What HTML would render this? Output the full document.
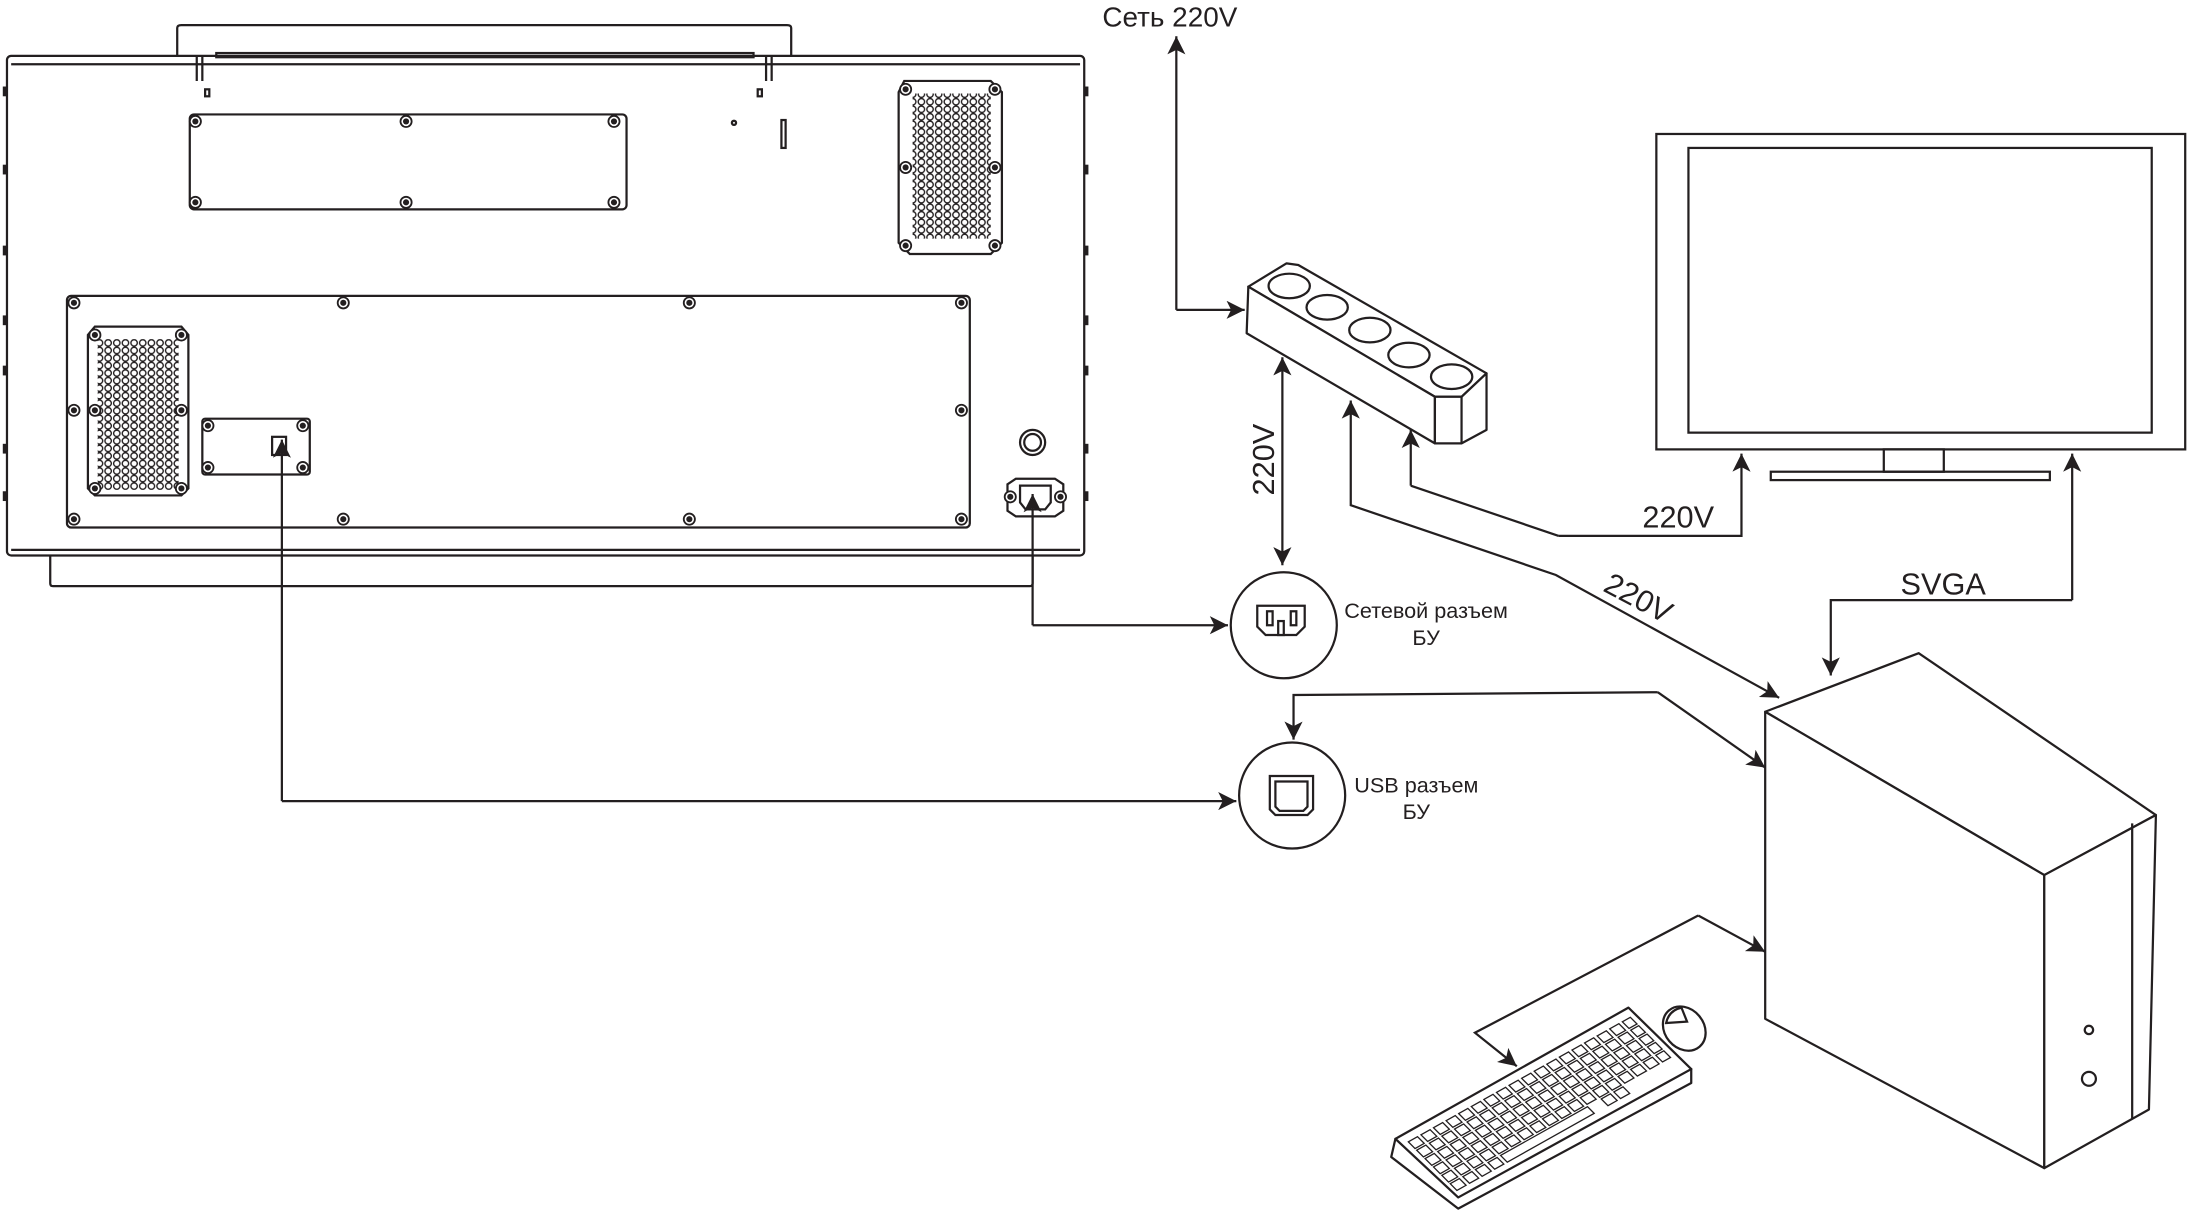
<!DOCTYPE html>
<html><head><meta charset="utf-8"><style>
html,body{margin:0;padding:0;background:#fff;}
svg{display:block;}
text{font-family:"Liberation Sans",sans-serif;fill:#231f20;}
</style></head><body>
<svg width="2188" height="1210" viewBox="0 0 1568 867" preserveAspectRatio="none" xmlns="http://www.w3.org/2000/svg">
<defs>
<marker id="a" viewBox="0 0 10 10" refX="10" refY="5" markerWidth="16" markerHeight="13" markerUnits="userSpaceOnUse" orient="auto-start-reverse"><path d="M0,0 L10,5 L0,10 L2.5,5 z" fill="#231f20"/></marker>
<pattern id="holes" width="6.2" height="5.4" patternUnits="userSpaceOnUse"><circle cx="3.1" cy="2.7" r="2.3" fill="none" stroke="#231f20" stroke-width="1"/></pattern>
<g id="sc"><circle r="4" fill="#fff" stroke="#231f20" stroke-width="1.3"/><circle r="2.2" fill="#231f20"/></g>
</defs>
<g fill="none" stroke="#231f20" stroke-width="1.6">
<!-- device -->
<path d="M127,40 V20 Q127,18 130,18 H564 Q567,18 567,20 V40"/>
<rect x="155" y="38" width="385" height="3"/>
<path d="M141,40 V58 M145,40 V58 M549,40 V58 M553,40 V58"/>
<rect x="147" y="64" width="3" height="5"/><rect x="543" y="64" width="3" height="5"/>
<rect x="5" y="40" width="772" height="358" rx="3"/>
<path d="M8,46 H774 M8,394 H774"/>
<path d="M36,398 V418 Q36,420 38,420 H738 Q740,420 740,418 V398"/>
<rect x="136" y="82" width="313" height="68" rx="3"/>
<circle cx="526" cy="88" r="1.5"/><rect x="560" y="86" width="3" height="20"/>
<path d="M648,58 H710 L718,66 V174 L710,182 H652 L644,174 V66 Z"/>
<rect x="654" y="67" width="56" height="104" fill="url(#holes)" stroke="none"/>
<rect x="48" y="212" width="647" height="166" rx="3"/>
<path d="M68,234 H130 L135,240 V350 L130,355 H68 L63,350 V240 Z"/>
<rect x="70" y="243" width="58" height="108" fill="url(#holes)" stroke="none"/>
<rect x="145" y="300" width="77" height="40" rx="2"/>
<rect x="195" y="313" width="10" height="13"/>
<circle cx="740" cy="317" r="9"/><circle cx="740" cy="317" r="6"/>
<path d="M722,347 L728,343 H756 L762,347 V366 L756,370 H728 L722,366 Z"/>
<path d="M731,348 H753 V360 L749,365 H735 L731,360 Z"/>
</g>
<g>
<use href="#sc" x="140" y="87"/><use href="#sc" x="291" y="87"/><use href="#sc" x="440" y="87"/>
<use href="#sc" x="140" y="145"/><use href="#sc" x="291" y="145"/><use href="#sc" x="440" y="145"/>
<use href="#sc" x="53" y="217"/><use href="#sc" x="246" y="217"/><use href="#sc" x="494" y="217"/><use href="#sc" x="689" y="217"/>
<use href="#sc" x="53" y="294"/><use href="#sc" x="689" y="294"/>
<use href="#sc" x="53" y="372"/><use href="#sc" x="246" y="372"/><use href="#sc" x="494" y="372"/><use href="#sc" x="689" y="372"/>
<use href="#sc" x="68" y="240"/><use href="#sc" x="130" y="240"/><use href="#sc" x="68" y="294"/><use href="#sc" x="130" y="294"/><use href="#sc" x="68" y="350"/><use href="#sc" x="130" y="350"/>
<use href="#sc" x="649" y="64"/><use href="#sc" x="713" y="64"/><use href="#sc" x="649" y="120"/><use href="#sc" x="713" y="120"/><use href="#sc" x="649" y="176"/><use href="#sc" x="713" y="176"/>
<use href="#sc" x="149" y="305"/><use href="#sc" x="217" y="305"/><use href="#sc" x="149" y="335"/><use href="#sc" x="217" y="335"/>
<use href="#sc" x="724" y="356"/><use href="#sc" x="760" y="356"/>
</g>
<g fill="#231f20">
<rect x="2" y="62" width="3" height="7"/><rect x="2" y="118" width="3" height="7"/><rect x="2" y="176" width="3" height="7"/><rect x="2" y="226" width="3" height="7"/><rect x="2" y="262" width="3" height="7"/><rect x="2" y="318" width="3" height="7"/><rect x="2" y="352" width="3" height="7"/>
<rect x="777" y="62" width="3" height="7"/><rect x="777" y="118" width="3" height="7"/><rect x="777" y="176" width="3" height="7"/><rect x="777" y="226" width="3" height="7"/><rect x="777" y="262" width="3" height="7"/><rect x="777" y="318" width="3" height="7"/><rect x="777" y="352" width="3" height="7"/>
</g>

<!-- power strip -->
<g fill="#fff" stroke="#231f20" stroke-width="1.6" stroke-linejoin="round">
<path d="M894.6,205.4 L922,188.7 L930.4,189.9 L1065.3,267.5 L1047.4,284.3 L1028.3,284.3 Z"/>
<path d="M894.6,205.4 L1028.3,284.3 L1028.3,317.7 L893.4,238.8 Z"/>
<path d="M1028.3,284.3 L1047.4,284.3 L1065.3,267.5 L1065.3,308 L1047.4,317.7 L1028.3,317.7 Z"/>
<path d="M1047.4,284.3 V317.7"/>
<ellipse cx="923.9" cy="204.9" rx="14.8" ry="8.8"/><ellipse cx="951.1" cy="220.2" rx="14.8" ry="8.8"/><ellipse cx="981.7" cy="236.5" rx="14.8" ry="8.8"/><ellipse cx="1009.7" cy="254.4" rx="14.8" ry="8.8"/><ellipse cx="1040.3" cy="269.9" rx="14.8" ry="8.8"/>
</g>

<!-- monitor -->
<g fill="none" stroke="#231f20" stroke-width="1.6">
<rect x="1187" y="96" width="379" height="226"/>
<rect x="1210" y="106" width="332" height="204"/>
<rect x="1350" y="322" width="43" height="16"/>
<rect x="1269" y="338" width="200" height="6"/>
</g>

<!-- PC -->
<g fill="#fff" stroke="#231f20" stroke-width="1.6" stroke-linejoin="round">
<path d="M1265,510 L1375,468 L1545,584 L1465,627 Z"/>
<path d="M1265,510 L1465,627 L1465,837 L1265,730 Z"/>
<path d="M1465,627 L1545,584 L1540,795 L1465,837 Z"/>
<path d="M1528,590 V802"/>
<circle cx="1497" cy="738" r="3"/><circle cx="1497" cy="773" r="5"/>
</g>

<!-- keyboard -->
<g fill="#fff" stroke="#231f20" stroke-width="1.6" stroke-linejoin="round">
<path d="M1000,816 L997,829 L1045,866 L1212,776 L1212,766 L1045,856 Z"/>
<path d="M1000,816 L1167,722 L1212,766 L1045,858 Z"/>
</g>
<g transform="matrix(164,-92,40,40,1004,818)" fill="none" stroke="#231f20" stroke-width="1.3">
<g id="row">
<rect x="0.02" y="0.05" width="0.04" height="0.12" vector-effect="non-scaling-stroke"/><rect x="0.075" y="0.05" width="0.04" height="0.12" vector-effect="non-scaling-stroke"/><rect x="0.13" y="0.05" width="0.04" height="0.12" vector-effect="non-scaling-stroke"/><rect x="0.185" y="0.05" width="0.04" height="0.12" vector-effect="non-scaling-stroke"/><rect x="0.24" y="0.05" width="0.04" height="0.12" vector-effect="non-scaling-stroke"/><rect x="0.295" y="0.05" width="0.04" height="0.12" vector-effect="non-scaling-stroke"/><rect x="0.35" y="0.05" width="0.04" height="0.12" vector-effect="non-scaling-stroke"/><rect x="0.405" y="0.05" width="0.04" height="0.12" vector-effect="non-scaling-stroke"/><rect x="0.46" y="0.05" width="0.04" height="0.12" vector-effect="non-scaling-stroke"/><rect x="0.515" y="0.05" width="0.04" height="0.12" vector-effect="non-scaling-stroke"/><rect x="0.57" y="0.05" width="0.04" height="0.12" vector-effect="non-scaling-stroke"/><rect x="0.625" y="0.05" width="0.04" height="0.12" vector-effect="non-scaling-stroke"/><rect x="0.68" y="0.05" width="0.04" height="0.12" vector-effect="non-scaling-stroke"/><rect x="0.735" y="0.05" width="0.04" height="0.12" vector-effect="non-scaling-stroke"/><rect x="0.79" y="0.05" width="0.04" height="0.12" vector-effect="non-scaling-stroke"/><rect x="0.845" y="0.05" width="0.04" height="0.12" vector-effect="non-scaling-stroke"/><rect x="0.9" y="0.05" width="0.04" height="0.12" vector-effect="non-scaling-stroke"/><rect x="0.955" y="0.05" width="0.035" height="0.12" vector-effect="non-scaling-stroke"/>
</g>
<use href="#row" y="0.15"/><use href="#row" y="0.3"/><use href="#row" y="0.45"/><use href="#row" y="0.6"/>
<rect x="0.02" y="0.8" width="0.04" height="0.12" vector-effect="non-scaling-stroke"/><rect x="0.075" y="0.8" width="0.04" height="0.12" vector-effect="non-scaling-stroke"/><rect x="0.13" y="0.8" width="0.04" height="0.12" vector-effect="non-scaling-stroke"/><rect x="0.185" y="0.8" width="0.04" height="0.12" vector-effect="non-scaling-stroke"/><rect x="0.24" y="0.8" width="0.38" height="0.12" vector-effect="non-scaling-stroke"/><rect x="0.68" y="0.8" width="0.04" height="0.12" vector-effect="non-scaling-stroke"/><rect x="0.735" y="0.8" width="0.04" height="0.12" vector-effect="non-scaling-stroke"/>
</g>
<g fill="#fff" stroke="#231f20" stroke-width="1.6">
<ellipse cx="1207" cy="737" rx="14" ry="17" transform="rotate(-40 1207 737)"/>
<path d="M1194,733 Q1196,724 1205,722 L1209,732 Z"/>
</g>

<!-- connectors -->
<g fill="none" stroke="#231f20" stroke-width="1.6" marker-end="url(#a)">
<path d="M843,222 V26"/>
<path d="M843,222 H892"/>
<path d="M919,405 V256" marker-start="url(#a)"/>
<path d="M968,287 V362 L1115,412 L1275,500" marker-start="url(#a)"/>
<path d="M1117,384 H1248 V325"/>
<path d="M1011,348 L1117,384" marker-end="none"/>
<path d="M1011,348 V308"/>
<path d="M1485,430 V325"/>
<path d="M1485,430 H1312 V484"/>
<path d="M740,448 V354"/>
<path d="M740,448 H880"/>
<path d="M202,574 V315"/>
<path d="M202,574 H886"/>
<path d="M1188,496 L1265,550"/>
<path d="M1188,496 L927,498 V530"/>
<path d="M1217,656 L1265,682"/>
<path d="M1217,656 L1057,740 L1087,764"/>
</g>

<!-- connector circles -->
<g fill="#fff" stroke="#231f20" stroke-width="1.6">
<circle cx="920" cy="448" r="38"/>
<path d="M901,434 H935 V449 L929,455 H907 L901,449 Z"/>
<rect x="908" y="438" width="4" height="10"/><rect x="925" y="438" width="4" height="10"/><rect x="916" y="445" width="4" height="10"/>
<circle cx="926" cy="570" r="38"/>
<path d="M910,556 H941 V580 L937,584 H914 L910,580 Z"/>
<path d="M914,560 H937 V578 L934,581 H917 L914,578 Z"/>
</g>

<!-- labels -->
<text x="790" y="19" font-size="20">Сеть 220V</text>
<text x="1022" y="443" font-size="15.5" text-anchor="middle">Сетевой разъем</text>
<text x="1022" y="462" font-size="15.5" text-anchor="middle">БУ</text>
<text x="1015" y="568" font-size="15.5" text-anchor="middle">USB разъем</text>
<text x="1015" y="587" font-size="15.5" text-anchor="middle">БУ</text>
<text x="1177" y="378" font-size="22">220V</text>
<text x="1362" y="426" font-size="22">SVGA</text>
<text font-size="22" transform="translate(913,355) rotate(-90)">220V</text>
<text font-size="22" transform="translate(1148,423) rotate(28)">220V</text>
</svg>
</body></html>
